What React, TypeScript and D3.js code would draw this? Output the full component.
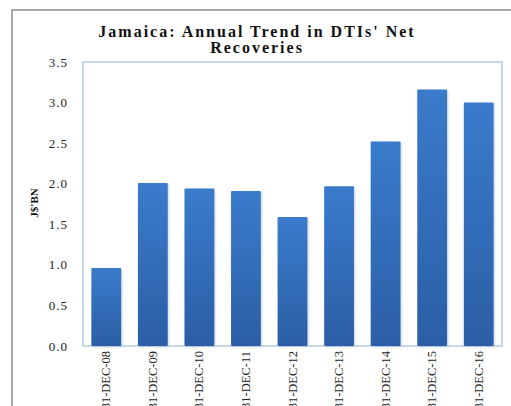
import React from "react";
import * as d3 from "d3";

const categories = ["31-DEC-08", "31-DEC-09", "31-DEC-10", "31-DEC-11", "31-DEC-12", "31-DEC-13", "31-DEC-14", "31-DEC-15", "31-DEC-16"];
const values = [0.96, 2.01, 1.94, 1.91, 1.59, 1.97, 2.52, 3.16, 3.0];
const yTicks = [0, 0.5, 1.0, 1.5, 2.0, 2.5, 3.0, 3.5];
const titleLines = ["Jamaica: Annual Trend in DTIs' Net", "Recoveries"];
const yLabel = "J$'BN";

export default function App() {
  const W = 511, H = 406;
  const left = 83, right = 502, top = 62, bottom = 346;
  const x = d3.scaleBand<string>().domain(categories).range([left, right]).paddingInner(0.36).paddingOuter(0.18);
  const y = d3.scaleLinear().domain([0, 3.5]).range([bottom, top]);
  const serif = "'Liberation Serif', 'Times New Roman', serif";
  return (
    <svg width={W} height={H} style={{ position: "absolute", left: 0, top: 0, background: "#fff" }}>
      <defs>
        <linearGradient id="barGrad" x1="0" y1="0" x2="0" y2="1">
          <stop offset="0" stopColor="#3a7bcb" />
          <stop offset="1" stopColor="#2b5ea6" />
        </linearGradient>
        <filter id="sh" x="-20%" y="-5%" width="140%" height="110%">
          <feGaussianBlur stdDeviation="1" />
        </filter>
      </defs>
      <rect x={12} y={10} width={W + 20} height={H + 20} fill="#fff" stroke="#8c8c8c" strokeWidth={1.5} />
      {titleLines.map((t, i) => (
        <text key={i} x={257} y={37 + i * 16} textAnchor="middle" fontFamily={serif} fontWeight="bold" fontSize={16} letterSpacing={2} fill="#111">{t}</text>
      ))}
      <rect x={left} y={top} width={right - left} height={bottom - top} fill="#fff" stroke="#b4cde2" strokeWidth={1.5} />
      {categories.map((c, i) => (
        <g key={c}>
          <rect x={(x(c) as number) + 1} y={y(values[i]) + 1} width={x.bandwidth()} height={bottom - y(values[i])} fill="#9db4cf" opacity={0.6} filter="url(#sh)" />
          <rect x={x(c)} y={y(values[i])} width={x.bandwidth()} height={bottom - y(values[i])} fill="url(#barGrad)" rx={1} />
        </g>
      ))}
      {yTicks.map((t) => (
        <text key={t} x={68} y={y(t) + 4.5} textAnchor="end" fontFamily={serif} fontSize={13} fill="#222" letterSpacing={1}>{t.toFixed(1)}</text>
      ))}
      <text transform={`translate(38,203) rotate(-90)`} textAnchor="middle" fontFamily={serif} fontWeight="bold" fontSize={11} fill="#111">{yLabel}</text>
      {categories.map((c) => (
        <text key={c} transform={`translate(${(x(c) as number) + x.bandwidth() / 2 + 4},351) rotate(-90)`} textAnchor="end" fontFamily={serif} fontSize={12.5} fill="#222">{c}</text>
      ))}
    </svg>
  );
}
